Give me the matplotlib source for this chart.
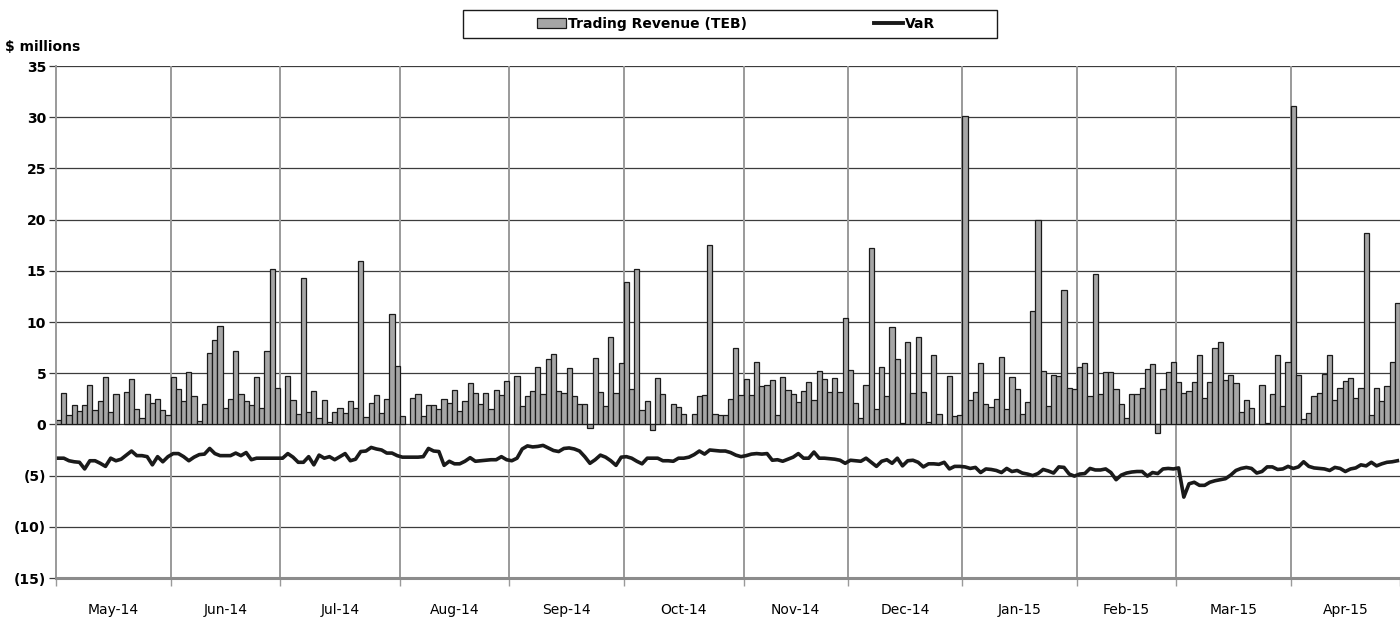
import numpy as np
import matplotlib
matplotlib.use("Agg")
import matplotlib.pyplot as plt
from matplotlib.patches import Patch, Rectangle
from matplotlib.lines import Line2D
from matplotlib.ticker import FuncFormatter

plt.rcParams["font.family"] = ["DejaVu Sans"]

# daily trading revenue (TEB), $ millions, one list per month (None = no bar)
months = ["May-14", "Jun-14", "Jul-14", "Aug-14", "Sep-14", "Oct-14",
          "Nov-14", "Dec-14", "Jan-15", "Feb-15", "Mar-15", "Apr-15"]

rev_may = [0.4, 3.1, 0.9, 1.85, 1.3, 1.85, 3.8, 1.4, 2.25, 4.6, 1.2, 3.0, None,
           3.2, 4.4, 1.5, 0.6, 3.0, 2.05, 2.5, 1.4, 0.9]
rev_jun = [4.6, 3.5, 2.3, 5.1, 2.75, 0.3, 1.95, 7.0, 8.2, 9.6, 1.6, 2.5, 7.2,
           3.0, 2.3, 1.85, 4.6, 1.6, 7.2, 15.2, 3.6]
rev_jul = [None, 4.7, 2.35, 1.05, 14.3, 1.2, 3.25, 0.6, 2.35, 0.25, 1.2, 1.65,
           1.15, 2.25, 1.65, 16.0, 0.7, 2.05, 2.9, 1.15, 2.45, 10.8, 5.7]
rev_aug = [0.85, None, 2.55, 2.95, 0.85, 1.85, 1.85, 1.5, 2.45, 2.05, 3.4,
           1.35, 2.25, 4.0, 3.1, 1.95, 3.1, 1.5, 3.4, 2.9, 4.2]
rev_sep = [None, 4.75, 1.8, 2.75, 3.3, 5.6, 3.0, 6.4, 6.9, 3.3, 3.1, 5.5, 2.8,
           2.0, 2.0, -0.4, 6.5, 3.2, 1.8, 8.5, 3.1, 6.0]
rev_oct = [13.9, 3.5, 15.2, 1.45, 2.3, -0.55, 4.5, 3.0, None, 2.0, 1.7, 1.0,
           None, 1.05, 2.8, 2.9, 17.5, 1.05, 0.9, 0.9, 2.5, 7.45, 2.9]
rev_nov = [4.45, 2.9, 6.05, 3.75, 3.8, 4.3, 0.95, 4.6, 3.4, 2.95, 2.2, 3.3,
           4.1, 2.35, 5.25, 4.4, 3.15, 4.5, 3.15, 10.35]
rev_dec = [5.35, 2.05, 0.6, 3.8, 17.25, 1.5, 5.65, 2.75, 9.55, 6.35, 0.1, 8.0,
           3.1, 8.5, 3.2, 0.2, 6.75, 1.05, None, 4.7, 0.8, 0.95]
rev_jan = [30.1, 2.4, 3.2, 6.0, 1.95, 1.7, 2.45, 6.6, 1.55, 4.6, 3.5, 1.05,
           2.2, 11.05, 20.0, 5.2, 1.75, 4.85, 4.7, 13.1, 3.6, 3.5]
rev_feb = [5.65, 5.95, 2.75, 14.7, 2.95, 5.1, 5.1, 3.5, 1.95, 0.6, 2.95, 2.95,
           3.6, 5.45, 5.85, -0.8, 3.5, 5.1, 6.1]
rev_mar = [4.15, 3.05, 3.3, 4.15, 6.8, 2.55, 4.15, 7.5, 8.05, 4.3, 4.8, 4.05,
           1.2, 2.35, 1.65, None, 3.8, 0.15, 3.0, 6.75, 1.75, 6.1]
rev_apr = [31.1, 4.8, 0.5, 1.15, 2.75, 3.1, 4.9, 6.75, 2.35, 3.6, 4.2, 4.5,
           2.55, 3.6, 18.7, 0.95, 3.6, 2.25, 3.75, 6.1, 11.85]

# daily VaR, $ millions
var_may = [-3.3, -3.3, -3.55, -3.65, -3.7, -4.35, -3.55, -3.55, -3.8, -4.1, -3.3,
           -3.55, -3.4, -3.0, -2.6, -3.05, -3.05, -3.15, -3.95, -3.15, -3.65, -3.15]
var_jun = [-2.85, -2.85, -3.15, -3.55, -3.2, -2.95, -2.9, -2.35, -2.85, -3.05,
           -3.05, -3.05, -2.8, -3.05, -2.75, -3.45, -3.3, -3.3, -3.3, -3.3, -3.3]
var_jul = [-3.3, -2.85, -3.2, -3.7, -3.7, -3.15, -3.95, -3.0, -3.3, -3.15, -3.45,
           -3.15, -2.85, -3.55, -3.4, -2.65, -2.6, -2.25, -2.4, -2.5, -2.8, -2.8,
           -3.05]
var_aug = [-3.2, -3.2, -3.2, -3.2, -3.15, -2.35, -2.6, -2.65, -4.0, -3.6, -3.85,
           -3.85, -3.6, -3.25, -3.6, -3.55, -3.5, -3.45, -3.45, -3.15, -3.45]
var_sep = [-3.55, -3.3, -2.4, -2.1, -2.2, -2.15, -2.05, -2.3, -2.55, -2.65, -2.35,
           -2.3, -2.4, -2.6, -3.15, -3.8, -3.45, -3.0, -3.2, -3.55, -4.0, -3.2]
var_oct = [-3.15, -3.3, -3.6, -3.85, -3.3, -3.3, -3.3, -3.55, -3.55, -3.6, -3.3,
           -3.3, -3.2, -2.95, -2.6, -2.9, -2.5, -2.55, -2.6, -2.6, -2.75, -3.0,
           -3.15]
var_nov = [-3.05, -2.9, -2.85, -2.9, -2.85, -3.5, -3.45, -3.6, -3.4, -3.2, -2.85,
           -3.3, -3.3, -2.7, -3.3, -3.3, -3.35, -3.4, -3.5, -3.8]
var_dec = [-3.5, -3.55, -3.6, -3.3, -3.7, -4.1, -3.6, -3.45, -3.8, -3.3, -4.05,
           -3.55, -3.5, -3.7, -4.15, -3.85, -3.85, -3.9, -3.7, -4.35, -4.1, -4.1]
var_jan = [-4.15, -4.3, -4.2, -4.7, -4.35, -4.4, -4.5, -4.7, -4.3, -4.6, -4.5,
           -4.75, -4.85, -5.0, -4.8, -4.4, -4.55, -4.75, -4.15, -4.2, -4.85, -5.05]
var_feb = [-4.85, -4.8, -4.3, -4.45, -4.45, -4.35, -4.7, -5.4, -4.95, -4.75,
           -4.65, -4.6, -4.6, -5.05, -4.7, -4.8, -4.35, -4.3, -4.35]
var_mar = [-4.25, -7.1, -5.8, -5.65, -5.95, -5.95, -5.65, -5.5, -5.4, -5.3,
           -4.95, -4.5, -4.3, -4.2, -4.3, -4.75, -4.6, -4.15, -4.15, -4.4, -4.35,
           -4.1]
var_apr = [-4.3, -4.15, -3.65, -4.1, -4.25, -4.3, -4.35, -4.5, -4.2, -4.3, -4.6,
           -4.35, -4.25, -3.95, -4.05, -3.7, -4.05, -3.85, -3.7, -3.65, -3.55]

y_ticks = [35, 30, 25, 20, 15, 10, 5, 0, -5, -10, -15]

rev_months = [rev_may, rev_jun, rev_jul, rev_aug, rev_sep, rev_oct,
              rev_nov, rev_dec, rev_jan, rev_feb, rev_mar, rev_apr]
var_months = [var_may, var_jun, var_jul, var_aug, var_sep, var_oct,
              var_nov, var_dec, var_jan, var_feb, var_mar, var_apr]

revenue = np.array([np.nan if v is None else v for m in rev_months for v in m])
var = np.array([v for m in var_months for v in m])
x = np.arange(len(revenue))

# month boundaries (between trading-day slots) and label centres
sizes = [len(m) for m in rev_months]
starts = np.concatenate([[0], np.cumsum(sizes)])
bounds = starts - 0.5
centers = (starts[:-1] + starts[1:] - 1) / 2

BAR = "#a6a6a6"
EDGE = "#1a1a1a"

fig = plt.figure(figsize=(14, 6.17), dpi=100)
ax = fig.add_axes([56 / 1400, 1 - 578 / 617, 1 - 56 / 1400, (578 - 66) / 617])

for y in y_ticks:
    ax.axhline(y, color="#3c3c3c", lw=0.9, zorder=0)
for b in bounds[1:-1]:
    ax.axvline(b, color="#9a9a9a", lw=1.4, zorder=0)

ok = ~np.isnan(revenue)
ax.bar(x[ok], revenue[ok], width=1.0, color=BAR, edgecolor=EDGE,
       linewidth=0.9, zorder=2)
ax.plot(x, var, color="#1a1a1a", lw=2.6, zorder=3)

ax.set_xlim(-0.5, len(revenue) - 0.5)
ax.set_ylim(-15, 35)

ax.set_yticks(y_ticks)
ax.yaxis.set_major_formatter(FuncFormatter(
    lambda v, p: f"({abs(int(v))})" if v < 0 else f"{int(v)}"))
ax.tick_params(axis="y", length=5, width=0.9, color="#3c3c3c", pad=2,
               labelsize=10)
for lab in ax.get_yticklabels():
    lab.set_fontweight("bold")

ax.set_xticks(bounds)
ax.set_xticklabels([])
ax.set_xticks(centers, minor=True)
ax.set_xticklabels(months, minor=True)
ax.tick_params(axis="x", which="major", length=6, width=1.0, color="#9a9a9a")
ax.tick_params(axis="x", which="minor", length=0, pad=18, labelsize=10)

for s in ["top", "right"]:
    ax.spines[s].set_visible(False)
ax.spines["left"].set_color("#9a9a9a")
ax.spines["left"].set_linewidth(1.4)
ax.spines["bottom"].set_color("#8c8c8c")
ax.spines["bottom"].set_linewidth(2.2)

fig.text(5 / 1400, 1 - 47 / 617, "$ millions", fontsize=10, fontweight="bold",
         va="center", ha="left")

# legend box
fig.patches.append(Rectangle((463 / 1400, 1 - 38 / 617), 534 / 1400, 28 / 617,
                             transform=fig.transFigure, facecolor="white",
                             edgecolor="#1a1a1a", lw=1.0))
handles = [Patch(facecolor=BAR, edgecolor=EDGE, lw=0.9),
           Line2D([0], [0], color="#1a1a1a", lw=2.8)]
leg = fig.legend(handles, ["Trading Revenue (TEB)", "VaR"], ncol=2,
                 loc="center", bbox_to_anchor=(736 / 1400, 1 - 24 / 617),
                 frameon=False, handlelength=2.1, handleheight=0.7,
                 handletextpad=0.15, columnspacing=9.1,
                 prop={"weight": "bold", "size": 10})

fig.savefig("out.png", dpi=100)
